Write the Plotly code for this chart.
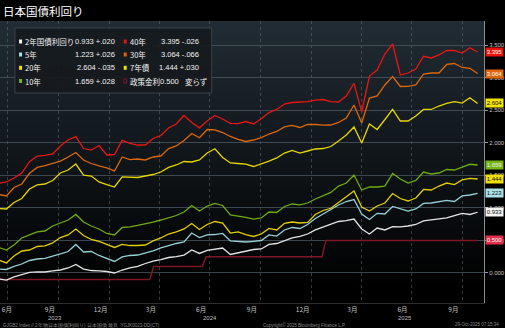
import base64
import struct
import zlib

import pandas as pd
import plotly.graph_objects as go

# ---------------------------------------------------------------- data
# bi-weekly observations, newest on 2025-10-29
dates = pd.date_range(end="2025-10-29", periods=63, freq="14D")

jgb_40y = [1.375, 1.398, 1.459, 1.536, 1.710, 1.797, 1.808, 1.828, 1.951, 2.043,
           2.094, 1.912, 1.889, 1.959, 1.813, 1.820, 2.038, 1.992, 1.966, 1.966,
           2.066, 2.112, 2.227, 2.289, 2.419, 2.312, 2.230, 2.335, 2.419, 2.366,
           2.298, 2.296, 2.327, 2.289, 2.370, 2.465, 2.512, 2.596, 2.619, 2.622,
           2.631, 2.657, 2.665, 2.631, 2.627, 2.719, 2.914, 2.473, 3.026, 3.118,
           3.364, 3.518, 3.041, 3.072, 3.134, 3.329, 3.303, 3.349, 3.418, 3.418,
           3.379, 3.461, 3.395]

jgb_30y = [1.206, 1.183, 1.313, 1.367, 1.531, 1.621, 1.651, 1.682, 1.720, 1.782,
           1.851, 1.736, 1.682, 1.644, 1.613, 1.567, 1.782, 1.743, 1.751, 1.736,
           1.782, 1.797, 1.912, 1.951, 2.035, 2.143, 2.078, 2.204, 2.197, 2.158,
           2.097, 2.054, 2.020, 2.043, 2.081, 2.135, 2.174, 2.243, 2.266, 2.235,
           2.284, 2.281, 2.270, 2.273, 2.312, 2.381, 2.581, 2.304, 2.688, 2.719,
           2.888, 3.018, 2.865, 2.868, 2.888, 3.054, 3.072, 3.072, 3.203, 3.218,
           3.157, 3.144, 3.064]

jgb_20y = [0.991, 0.983, 1.083, 1.144, 1.290, 1.352, 1.367, 1.421, 1.536, 1.582,
           1.674, 1.505, 1.490, 1.398, 1.359, 1.321, 1.475, 1.475, 1.467, 1.490,
           1.513, 1.551, 1.621, 1.659, 1.713, 1.705, 1.736, 1.843, 1.908, 1.774,
           1.690, 1.682, 1.674, 1.636, 1.674, 1.720, 1.767, 1.843, 1.882, 1.843,
           1.874, 1.905, 1.912, 1.943, 2.028, 2.120, 2.243, 1.997, 2.289, 2.204,
           2.358, 2.512, 2.335, 2.335, 2.412, 2.512, 2.512, 2.565, 2.604, 2.631,
           2.611, 2.693, 2.604]

jgb_10y = [0.392, 0.353, 0.430, 0.538, 0.584, 0.630, 0.645, 0.722, 0.768, 0.814,
           0.899, 0.783, 0.722, 0.676, 0.607, 0.584, 0.699, 0.707, 0.730, 0.753,
           0.783, 0.814, 0.853, 0.883, 0.937, 1.037, 0.952, 1.029, 1.068, 1.037,
           0.891, 0.876, 0.853, 0.829, 0.845, 0.937, 0.929, 1.022, 1.060, 1.045,
           1.075, 1.137, 1.190, 1.237, 1.336, 1.382, 1.505, 1.275, 1.321, 1.321,
           1.336, 1.528, 1.444, 1.382, 1.421, 1.551, 1.521, 1.536, 1.590, 1.582,
           1.625, 1.670, 1.659]

jgb_7y = [0.200, 0.154, 0.261, 0.338, 0.353, 0.407, 0.415, 0.461, 0.545, 0.584,
          0.676, 0.576, 0.515, 0.484, 0.438, 0.392, 0.438, 0.422, 0.422, 0.430,
          0.492, 0.538, 0.599, 0.630, 0.676, 0.760, 0.668, 0.745, 0.791, 0.768,
          0.614, 0.630, 0.591, 0.561, 0.599, 0.684, 0.661, 0.763, 0.783, 0.768,
          0.776, 0.899, 0.960, 0.994, 1.083, 1.167, 1.260, 1.014, 0.952, 1.029,
          1.075, 1.221, 1.144, 1.106, 1.152, 1.283, 1.275, 1.336, 1.382, 1.359,
          1.429, 1.452, 1.444]

jgb_5y = [0.061, 0.054, 0.100, 0.138, 0.192, 0.215, 0.223, 0.253, 0.292, 0.330,
          0.438, 0.323, 0.330, 0.269, 0.223, 0.177, 0.246, 0.269, 0.276, 0.307,
          0.341, 0.384, 0.422, 0.453, 0.476, 0.614, 0.545, 0.584, 0.591, 0.607,
          0.492, 0.484, 0.476, 0.487, 0.499, 0.584, 0.568, 0.661, 0.699, 0.684,
          0.745, 0.837, 0.906, 0.968, 1.045, 1.098, 1.129, 0.906, 0.822, 0.917,
          0.906, 1.022, 0.991, 0.952, 0.983, 1.068, 1.075, 1.098, 1.114, 1.098,
          1.183, 1.198, 1.223]

jgb_2y = [-0.092, -0.108, -0.061, -0.031, 0.008, 0.018, 0.015, 0.031, 0.046, 0.077,
          0.131, 0.061, 0.038, 0.031, 0.023, 0.000, 0.046, 0.077, 0.100, 0.146,
          0.184, 0.207, 0.238, 0.253, 0.276, 0.353, 0.300, 0.346, 0.361, 0.384,
          0.284, 0.307, 0.330, 0.361, 0.369, 0.438, 0.453, 0.499, 0.538, 0.561,
          0.599, 0.661, 0.707, 0.748, 0.791, 0.806, 0.829, 0.676, 0.599, 0.691,
          0.661, 0.711, 0.707, 0.722, 0.745, 0.799, 0.814, 0.822, 0.845, 0.883,
          0.917, 0.899, 0.933]

# BOJ policy rate (step changes)
policy_dates = ["2023-06-14", "2024-03-14", "2024-03-21", "2024-06-17",
                "2024-06-24", "2025-01-20", "2025-01-27", "2025-10-29"]
policy_rate = [-0.10, -0.10, 0.10, 0.10, 0.25, 0.25, 0.50, 0.50]

# latest daily change shown in the legend
day_change = {"2y": "+.020", "5y": "+.026", "20y": "-.035", "10y": "+.028",
              "40y": "-.026", "30y": "-.066", "7y": "+.030", "policy": "変らず"}

month_tick_dates = ["2023-06-29", "2023-09-15", "2023-12-16", "2024-03-16", "2024-06-15",
                    "2024-09-15", "2024-12-16", "2025-03-16", "2025-06-15", "2025-09-15"]
month_tick_text = ["6月", "9月", "12月", "3月", "6月", "9月", "12月", "3月", "6月", "9月"]
quarter_starts = ["2023-07-01", "2023-10-01", "2024-01-01", "2024-04-01", "2024-07-01",
                  "2024-10-01", "2025-01-01", "2025-04-01", "2025-07-01", "2025-10-01"]
year_labels = ["2023", "2024", "2025"]
y_ticks = [0.0, 0.5, 1.0, 1.5, 2.0, 2.5, 3.0, 3.5]

# ---------------------------------------------------------------- styling
CJK = "Noto Sans CJK JP"
NUM = "Liberation Sans Narrow, Liberation Sans, Arial, sans-serif"

W, H = 505, 328
M_L, M_R, M_T, M_B = 0, 18, 21, 25
PLOT_W = W - M_L - M_R
PLOT_H = H - M_T - M_B


def px(x):
    """pixel x -> paper x"""
    return (x - M_L) / PLOT_W


def py(y):
    """pixel y -> paper y"""
    return (H - M_B - y) / PLOT_H


series = {
    "2y": dict(name="2年国債利回り", y=jgb_2y, color="#e4e4e4", box="#f2f2f2", txt="#111111"),
    "5y": dict(name="5年", y=jgb_5y, color="#96cfd5", box="#a9e1e7", txt="#111111"),
    "20y": dict(name="20年", y=jgb_20y, color="#e6d600", box="#f2e400", txt="#111111"),
    "10y": dict(name="10年", y=jgb_10y, color="#6faa12", box="#74b414", txt="#f4f4f4"),
    "40y": dict(name="40年", y=jgb_40y, color="#e81612", box="#e8140e", txt="#ffffff"),
    "30y": dict(name="30年", y=jgb_30y, color="#dd670c", box="#e0640a", txt="#ffffff"),
    "7y": dict(name="7年債", y=jgb_7y, color="#e2cf06", box="#f0e000", txt="#111111"),
}
policy_color = "#7e1626"
policy_box = "#e2304a"


def gradient_uri(top, bottom, rows=160, stop=0.95):
    """1-pixel-wide vertical gradient encoded as a PNG data URI"""
    pix = []
    for i in range(rows):
        t = min(1.0, (i / (rows - 1)) / stop)
        pix.append(bytes(int(round(a + (b - a) * t)) for a, b in zip(top, bottom)))
    raw = b"".join(b"\x00" + p for p in pix)

    def chunk(tag, data):
        return (struct.pack(">I", len(data)) + tag + data
                + struct.pack(">I", zlib.crc32(tag + data) & 0xFFFFFFFF))

    png = (b"\x89PNG\r\n\x1a\n"
           + chunk(b"IHDR", struct.pack(">IIBBBBB", 1, rows, 8, 2, 0, 0, 0))
           + chunk(b"IDAT", zlib.compress(raw))
           + chunk(b"IEND", b""))
    return "data:image/png;base64," + base64.b64encode(png).decode()


# ---------------------------------------------------------------- traces
fig = go.Figure()
fig.add_trace(go.Scatter(x=policy_dates, y=policy_rate, mode="lines",
                         line=dict(color=policy_color, width=1.5), hoverinfo="skip"))
for key in ["2y", "5y", "7y", "10y", "20y", "30y", "40y"]:
    s = series[key]
    fig.add_trace(go.Scatter(x=dates, y=s["y"], mode="lines",
                             line=dict(color=s["color"], width=1.3), hoverinfo="skip"))

annotations = []
shapes = []

# value tags on the right axis
tag_font = 6
for key in ["2y", "5y", "7y", "10y", "20y", "30y", "40y"]:
    s = series[key]
    last = s["y"][-1]
    annotations.append(dict(
        x=1, xref="paper", y=last, yref="y", xanchor="left", yanchor="middle",
        xshift=0.5, text=f"{last:.3f}", showarrow=False, bgcolor=s["box"],
        width=17, height=8, borderpad=0, align="center",
        font=dict(size=tag_font, color=s["txt"], family=NUM)))
annotations.append(dict(
    x=1, xref="paper", y=policy_rate[-1], yref="y", xanchor="left", yanchor="middle",
    xshift=0.5, text=f"{policy_rate[-1]:.3f}", showarrow=False, bgcolor=policy_box,
    width=17, height=8, borderpad=0, align="center",
    font=dict(size=tag_font, color="#ffffff", family=NUM)))

# legend panel
shapes.append(dict(type="rect", xref="paper", yref="paper", layer="above",
                   x0=px(15), x1=px(213), y0=py(93), y1=py(28),
                   fillcolor="rgba(22,26,30,0.92)", line=dict(color="#3c4146", width=1)))

row_y = [41.5, 54.5, 67.8, 81.0]
columns = [
    (["2y", "5y", "20y", "10y"], 19.2, 23.0, 117.8),
    (["40y", "30y", "7y", "policy"], 124.5, 128.6, 202.5),
]
name_font = dict(size=7.5, color="#f2f2f2", family=CJK)
num_font = dict(size=7.5, color="#f2f2f2", family=NUM)
for keys, mx, nx, rx in columns:
    for key, ry in zip(keys, row_y):
        if key == "policy":
            name, value = "政策金利", policy_rate[-1]
            shapes.append(dict(type="rect", xref="paper", yref="paper", layer="above",
                               x0=px(mx), x1=px(mx + 3), y0=py(ry + 2), y1=py(ry - 2),
                               fillcolor="rgba(0,0,0,0)",
                               line=dict(color=policy_color, width=1)))
            annotations.append(dict(x=px(rx - 20), xref="paper", y=py(ry), yref="paper",
                                    xanchor="right", yanchor="middle", showarrow=False,
                                    text=f"{value:.3f}", font=num_font))
            annotations.append(dict(x=px(rx - 18), xref="paper", y=py(ry), yref="paper",
                                    xanchor="left", yanchor="middle", showarrow=False,
                                    text=day_change[key], font=name_font))
        else:
            s = series[key]
            name, value = s["name"], s["y"][-1]
            shapes.append(dict(type="rect", xref="paper", yref="paper", layer="above",
                               x0=px(mx), x1=px(mx + 3), y0=py(ry + 2), y1=py(ry - 2),
                               fillcolor=s["box"], line=dict(width=0)))
            annotations.append(dict(x=px(rx), xref="paper", y=py(ry), yref="paper",
                                    xanchor="right", yanchor="middle", showarrow=False,
                                    text=f"{value:.3f} {day_change[key]}", font=num_font))
        annotations.append(dict(x=px(nx), xref="paper", y=py(ry), yref="paper",
                                xanchor="left", yanchor="middle", showarrow=False,
                                text=name, font=name_font))

# title bar
annotations.append(dict(x=px(1), xref="paper", y=py(10.5), yref="paper",
                        xanchor="left", yanchor="middle", showarrow=False,
                        text="日本国債利回り", font=dict(size=11.5, color="#ffffff", family=CJK)))

# year captions under the month ticks
for label, xpix in zip(year_labels, [55, 211, 408]):
    annotations.append(dict(x=px(xpix), xref="paper", y=py(317.5), yref="paper",
                            xanchor="center", yanchor="middle", showarrow=False, text=label,
                            font=dict(size=6, color="#bdbdbd", family=NUM)))

# footer
foot = dict(size=4.5, color="#8a8a8a", family=NUM)
annotations.append(dict(x=px(1), xref="paper", y=py(324.5), yref="paper", xanchor="left",
                        yanchor="middle", showarrow=False, font=foot,
                        text="GJGB2 Index // 2年物日本国債(利回り) 日本国債 最良  YGJK0023-DD(CT)"))
annotations.append(dict(x=px(263), xref="paper", y=py(324.5), yref="paper", xanchor="left",
                        yanchor="middle", showarrow=False, font=foot,
                        text="Copyright© 2025 Bloomberg Finance L.P."))
annotations.append(dict(x=px(504), xref="paper", y=py(324.5), yref="paper", xanchor="right",
                        yanchor="middle", showarrow=False, font=foot,
                        text="29-Oct-2025 07:15:34"))

# ---------------------------------------------------------------- layout
fig.update_layout(
    width=W, height=H,
    margin=dict(l=M_L, r=M_R, t=M_T, b=M_B),
    paper_bgcolor="#000000",
    plot_bgcolor="rgba(0,0,0,0)",
    showlegend=False,
    hovermode=False,
    images=[dict(source=gradient_uri((33, 44, 52), (0, 0, 0)), xref="paper", yref="paper",
                 x=0, y=1, sizex=1, sizey=1, xanchor="left", yanchor="top",
                 sizing="stretch", layer="below")],
    xaxis=dict(
        range=["2023-06-16 14:00", "2025-11-09 14:00"],
        tickmode="array", tickvals=month_tick_dates, ticktext=month_tick_text,
        ticks="", showgrid=False, zeroline=False,
        showline=True, linecolor="#2e2e2e", linewidth=1,
        tickfont=dict(size=6.5, color="#c4c4c4", family=CJK),
        minor=dict(tickvals=quarter_starts, showgrid=True, ticks="",
                   gridcolor="rgba(95,106,116,0.55)", griddash="dot", gridwidth=1),
    ),
    yaxis=dict(
        side="right", range=[-0.461, 3.871],
        tickmode="array", tickvals=y_ticks, tickformat=".3f",
        showgrid=True, gridcolor="rgba(78,90,100,0.75)", gridwidth=1, zeroline=False,
        ticks="outside", ticklen=3, tickcolor="#9a9a9a",
        showline=True, linecolor="#8c8c8c", linewidth=1,
        tickfont=dict(size=6, color="#c4c4c4", family=NUM),
    ),
    annotations=annotations,
    shapes=shapes,
)

fig.write_html("out.html")
